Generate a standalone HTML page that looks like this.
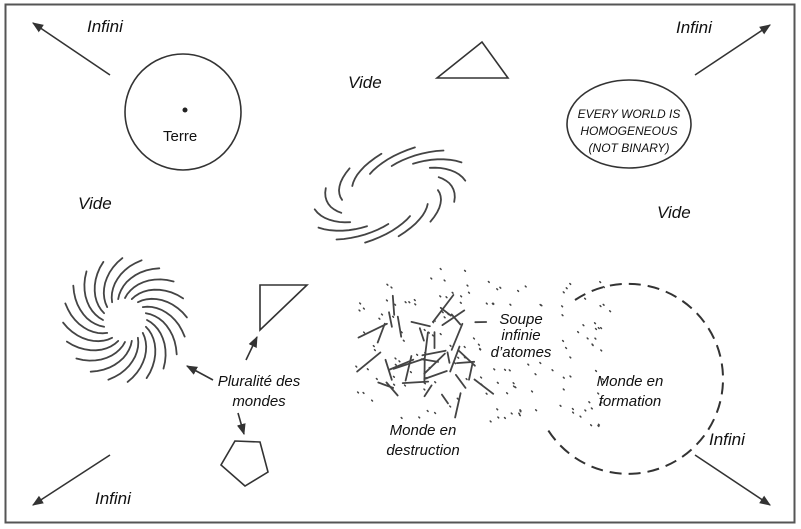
<!DOCTYPE html>
<html><head><meta charset="utf-8"><style>
html,body{margin:0;padding:0;background:#fff;}
svg{display:block;}
text{font-family:"Liberation Sans",sans-serif;font-style:italic;fill:#111;}
</style></head><body>
<svg id="s" width="801" height="529" viewBox="0 0 801 529" xmlns="http://www.w3.org/2000/svg">
<defs><marker id="a" viewBox="0 0 10 10" refX="9" refY="5" markerWidth="7" markerHeight="7" orient="auto"><path d="M0,1 L10,5 L0,9 Z" fill="#333"/></marker></defs>
<rect x="5.5" y="4.5" width="789" height="518" fill="#fff" stroke="#555" stroke-width="2"/>
<g stroke="#333" stroke-width="1.6" fill="none">
<line x1="110" y1="75" x2="33" y2="23" marker-end="url(#a)"/>
<line x1="695" y1="75" x2="770" y2="25" marker-end="url(#a)"/>
<line x1="110" y1="455" x2="33" y2="505" marker-end="url(#a)"/>
<line x1="695" y1="455" x2="770" y2="505" marker-end="url(#a)"/>
<line x1="213" y1="380" x2="187" y2="366" marker-end="url(#a)"/>
<line x1="246" y1="360" x2="257" y2="337" marker-end="url(#a)"/>
<line x1="238" y1="413" x2="244" y2="434" marker-end="url(#a)"/>
<circle cx="183" cy="112" r="58"/>
<polygon points="437,78 482,42 508,78"/>
<polygon points="260,285 307,285 260,330"/>
<polygon points="235,441 260,442 268,472 245,486 221,465"/>
<ellipse cx="629" cy="124" rx="62" ry="44"/>
<path d="M575,300 A95,95 0 1 1 545,425" stroke-dasharray="12,7" stroke-width="2"/>
</g>
<circle cx="185" cy="110" r="2.5" fill="#222"/>
<g id="g" stroke="#444" stroke-width="1.8" fill="none" stroke-linecap="round"></g>
<text x="87" y="32" font-size="17">Infini</text>
<text x="676" y="33" font-size="17">Infini</text>
<text x="95" y="504" font-size="17">Infini</text>
<text x="709" y="445" font-size="17">Infini</text>
<text x="348" y="88" font-size="17">Vide</text>
<text x="78" y="209" font-size="17">Vide</text>
<text x="657" y="218" font-size="17">Vide</text>
<text x="163" y="141" font-size="15" style="font-style:normal">Terre</text>
<text x="629" y="118" font-size="12" text-anchor="middle">EVERY WORLD IS</text>
<text x="629" y="135" font-size="12" text-anchor="middle">HOMOGENEOUS</text>
<text x="629" y="152" font-size="12" text-anchor="middle">(NOT BINARY)</text>
<text x="259" y="386" font-size="15" text-anchor="middle">Pluralité des</text>
<text x="259" y="406" font-size="15" text-anchor="middle">mondes</text>
<text x="521" y="324" font-size="15" text-anchor="middle">Soupe</text>
<text x="521" y="340" font-size="15" text-anchor="middle">infinie</text>
<text x="521" y="357" font-size="15" text-anchor="middle">d’atomes</text>
<text x="630" y="386" font-size="15" text-anchor="middle">Monde en</text>
<text x="630" y="406" font-size="15" text-anchor="middle">formation</text>
<text x="423" y="435" font-size="15" text-anchor="middle">Monde en</text>
<text x="423" y="455" font-size="15" text-anchor="middle">destruction</text>
</svg>
<script>
var g=document.getElementById('g'),NS="http://www.w3.org/2000/svg";
function P(d,w){var p=document.createElementNS(NS,'path');p.setAttribute('d',d);if(w)p.setAttribute('stroke-width',w);g.appendChild(p);}
var seed=7;function r(){seed=(seed*16807)%2147483647;return seed/2147483647;}
// spiral
for(var i=0;i<20;i++){var a0=i*2*Math.PI/20,d="";for(var k=0;k<=10;k++){var t=k/10,rad=22+t*40,a=a0+t*0.9;d+=(k?"L":"M")+(125+rad*Math.cos(a)).toFixed(1)+","+(320+rad*Math.sin(a)).toFixed(1);}P(d);}
// galaxy
var ca=Math.cos(-0.35),sa=Math.sin(-0.35);
for(var i=0;i<14;i++){var a0=i*2*Math.PI/14,d="";for(var k=0;k<=8;k++){var t=k/8,ang=a0+t*0.75,rr=0.72+t*0.38,x=72*rr*Math.cos(ang),y=38*rr*Math.sin(ang);d+=(k?"L":"M")+(390+x*ca-y*sa).toFixed(1)+","+(195+x*sa+y*ca).toFixed(1);}P(d);}
// dots
for(var i=0;i<200;i++){var x=345+r()*240,y=265+r()*165,dx=(x-455)/110,dy=(y-350)/80;if(dx*dx+dy*dy>1.1)continue;if(x>485&&x<560&&y>305&&y<362)continue;P("M"+x.toFixed(1)+","+y.toFixed(1)+"l0.8,0.8",1.5);}
for(var i=0;i<40;i++){var x=560+r()*50,y=280+r()*150;P("M"+x.toFixed(1)+","+y.toFixed(1)+"l0.8,0.8",1.5);}
// sticks
for(var i=0;i<38;i++){var x=375+r()*115,y=290+r()*110,a=r()*Math.PI,l=10+r()*24;P("M"+x.toFixed(1)+","+y.toFixed(1)+"l"+(l*Math.cos(a)).toFixed(1)+","+(l*Math.sin(a)).toFixed(1));}
</script>
</body></html>
